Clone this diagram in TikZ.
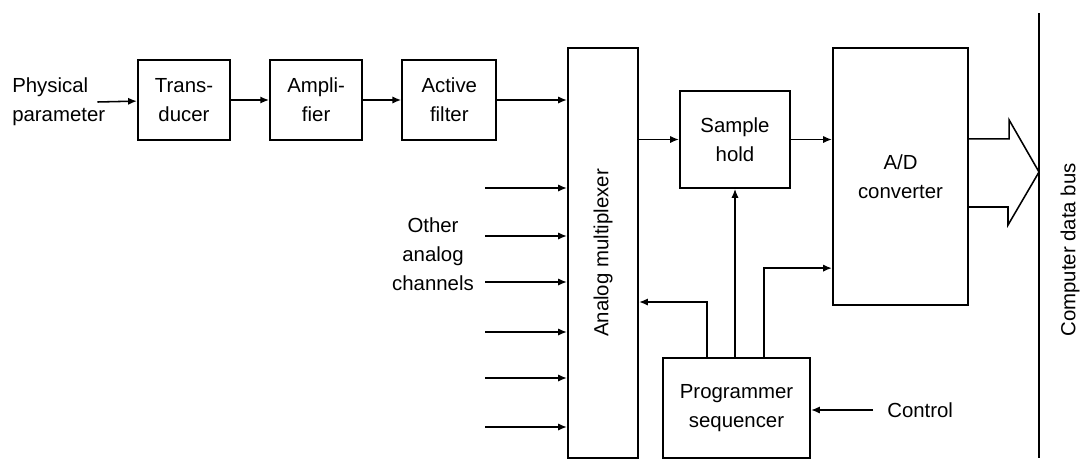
\documentclass[tikz,border=0pt]{standalone}
\usepackage{fontspec}
\setmainfont{Liberation Sans}
\usetikzlibrary{arrows.meta,positioning}

\begin{document}
\begin{tikzpicture}[
x=0.025cm,y=-0.025cm,
node distance=5mm and 9.5mm,
every node/.style={font=\fontsize{14.5}{20.5}\selectfont},
blk/.style={draw,line width=1.5pt,align=center,inner sep=0pt,
minimum width=23mm,minimum height=20mm},
lbl/.style={align=center,inner sep=0pt},
sig/.style={-{Latex[length=2.2mm,width=1.8mm]},line width=1.1pt},
bus/.style={line width=1.1pt,line join=miter}
]
\useasboundingbox (0,0) rectangle (1083,461);

% signal chain
\node[blk] (trans) at (184,100) {Trans-\\ducer};
\node[blk,right=of trans] (ampl) {Ampli-\\fier};
\node[blk,right=of ampl,minimum width=23.5mm] (filt) {Active\\filter};
\node[lbl,align=left,anchor=west] (phys) at (12,102) {Physical\\parameter};

\node[blk,minimum width=17.5mm,minimum height=102.5mm,
label={[rotate=90]center:Analog multiplexer}] (mux) at (603,253) {};
\node[blk,minimum width=27.5mm,minimum height=24.25mm] (sh) at (735,139.5) {Sample\\hold};
\node[blk,minimum width=33.75mm,minimum height=64.25mm] (adc) at (900.5,176.5) {A/D\\converter};
\node[blk,minimum width=36.75mm,minimum height=25mm] (prog) at (736.5,408) {Programmer\\sequencer};

\node[lbl] (othr) at (433,254) {Other\\analog\\channels};
\node[lbl,anchor=west] (ctrl) at (887,410) {Control};
\node[lbl,rotate=90] (buslbl) at (1070,250) {Computer data bus};

\draw[sig] ([xshift=-2mm]phys.east) -- (trans);
\draw[sig] (trans) -- (ampl);
\draw[sig] (ampl) -- (filt);
\draw[sig] (filt.east) -- (filt.east -| mux.west);
\draw[sig] (mux.east |- sh.west) -- (sh.west);
\draw[sig] (sh.east) -- (sh.east -| adc.west);

% other channels
\foreach \y in {188,236,282,332,378,427}{
  \coordinate (ch\y) at (485,\y);
  \draw[sig] (ch\y) -- (ch\y -| mux.west);
}

% sequencer lines
\draw[sig] ([xshift=-7.4mm]prog.north) |- ([yshift=-12.25mm]mux.east);
\draw[sig,line width=0.8pt] (prog.north -| sh.south) -- (sh.south);
\draw[sig] ([xshift=6.9mm]prog.north) |- ([yshift=-22.9mm]adc.west);
\draw[sig] ([xshift=-3.5mm]ctrl.west) -- (prog.east |- ctrl.west);

% data bus
\coordinate (bustop) at (1039,13);
\coordinate (busbot) at (1039,458);
\coordinate (bustip) at (1039,172);
\draw[line width=0.9pt] (bustop) -- (busbot);
\draw[bus] ([yshift=9.4mm]adc.east) -- ++(40,0) -- ++(0,-19) -- (bustip)
  -- ++(-31,53) -- ++(0,-18) -- ++(-40,0);
\end{tikzpicture}
\end{document}
